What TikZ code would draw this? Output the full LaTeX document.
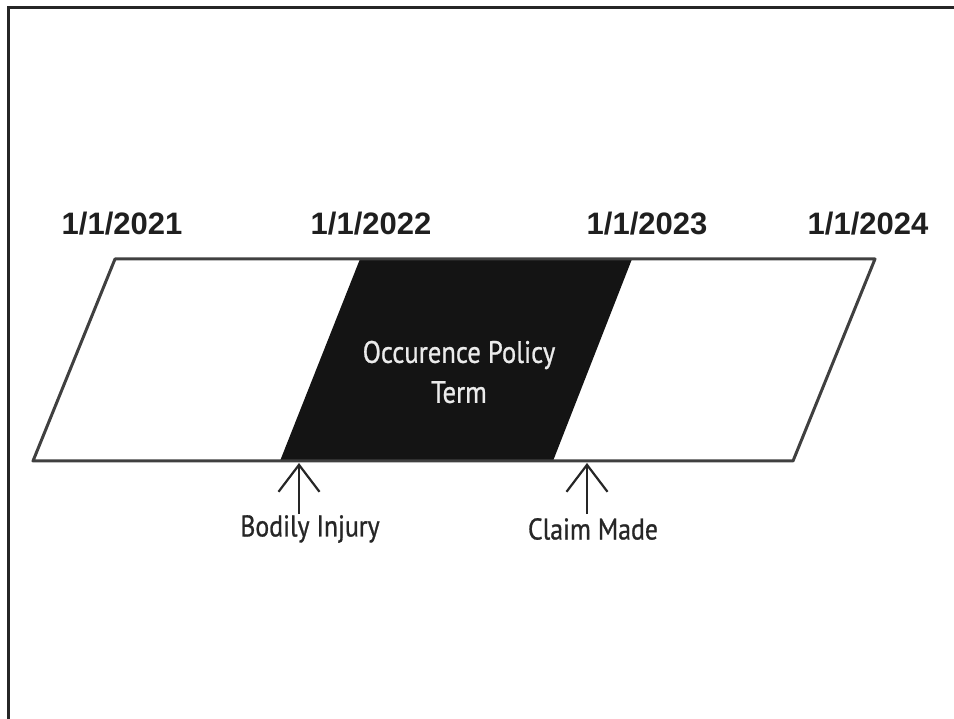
\documentclass[tikz,border=0pt]{standalone}
\usepackage{fontspec}
\setmainfont{Liberation Sans}
\newfontfamily\termfont[FakeStretch=0.86,FakeBold=0.8]{PT Sans}
\usetikzlibrary{arrows.meta,positioning,calc}

\begin{document}
\begin{tikzpicture}[x=1pt, y=-1pt, every node/.style={align=center}]
\useasboundingbox (0,0) rectangle (954,719);
\draw[line width=3pt, black!85] (8,719) -- (8,7.5) -- (954,7.5);
% policy band
\coordinate (TL) at (115,259);
\coordinate (TR) at (875,259);
\coordinate (BR) at (793,461);
\coordinate (BL) at (33,461);
\fill[black!92] (360,259) -- (632,259) -- (553,461) -- (280,461) -- cycle;
\draw[line width=3pt, black!75, line join=round] (TL) -- (TR) -- (BR) -- (BL) -- cycle;
\node[text=black!8, font=\termfont\fontsize{31}{40}\selectfont] (P) at (459,372) {Occurence Policy\\Term};
% dates
\node[font=\bfseries\fontsize{31}{31}\selectfont, text=black!88] (Y1) at (122,224) {1/1/2021};
\node[font=\bfseries\fontsize{31}{31}\selectfont, text=black!88] (Y2) at (371,224) {1/1/2022};
\node[font=\bfseries\fontsize{31}{31}\selectfont, text=black!88] (Y3) at (647,224) {1/1/2023};
\node[font=\bfseries\fontsize{31}{31}\selectfont, text=black!88] (Y4) at (868,224) {1/1/2024};
% events
\coordinate (BIx) at (299,463);
\coordinate (CMx) at (587,463);
\coordinate (BIb) at (299,514);
\coordinate (CMb) at (587,514);
\node[inner sep=2pt, text=black!85, font=\termfont\fontsize{30}{30}\selectfont] (BI) at (310,529) {Bodily Injury};
\node[inner sep=2pt, text=black!85, font=\termfont\fontsize{30}{30}\selectfont] (CM) at (593,529) {Claim Made};
\draw[line width=2.2pt, black!85, -{Straight Barb[length=27pt,width=41pt]}] (BIb) -- (BIx);
\draw[line width=2.2pt, black!85, -{Straight Barb[length=27pt,width=41pt]}] (CMb) -- (CMx);
\end{tikzpicture}
\end{document}
